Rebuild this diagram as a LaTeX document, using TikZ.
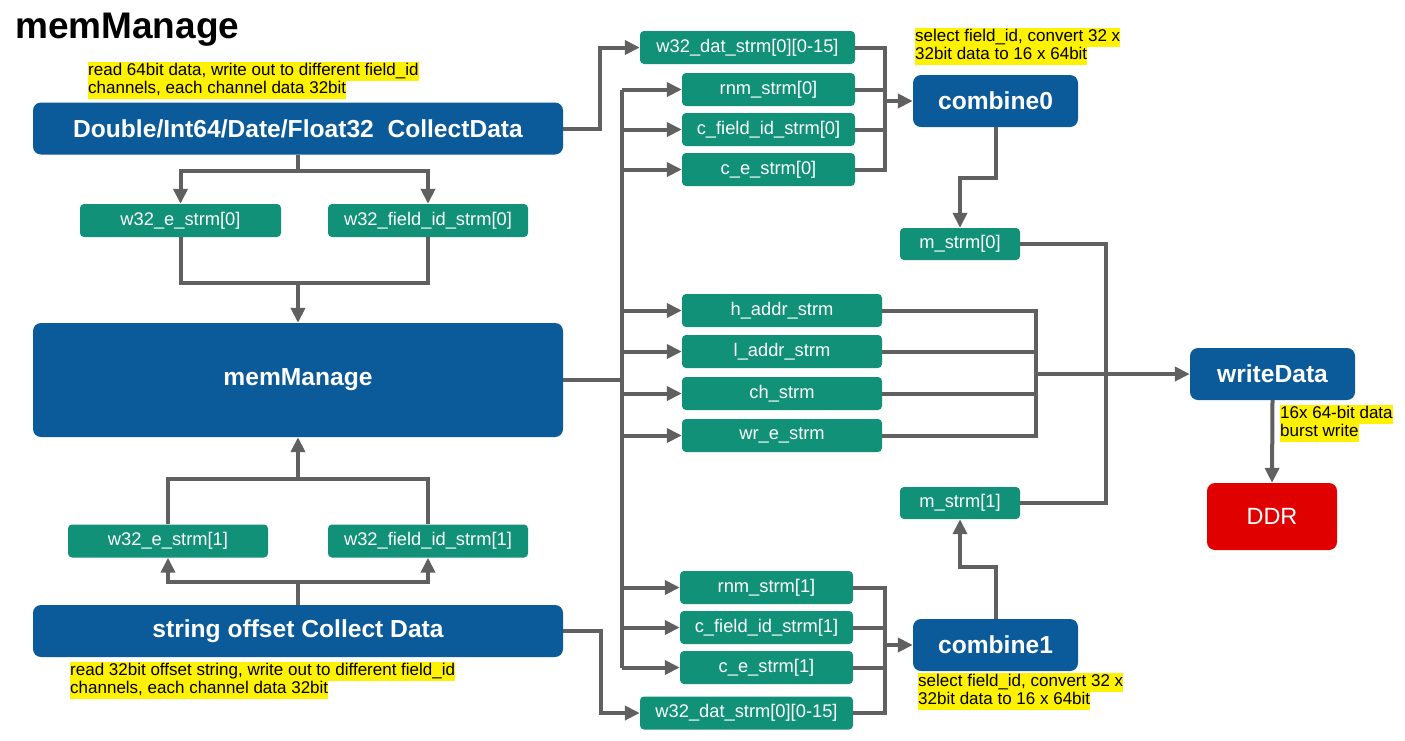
\documentclass[tikz,border=0pt]{standalone}
\usepackage{fontspec}
\setmainfont{Liberation Sans}
\usetikzlibrary{arrows.meta}
\definecolor{myblue}{RGB}{11,90,154}
\definecolor{mygreen}{RGB}{17,145,120}
\definecolor{mygray}{RGB}{96,96,96}
\definecolor{myred}{RGB}{224,0,0}
\newcommand{\hlt}[1]{{\setlength{\fboxsep}{0pt}\colorbox{yellow}{\strut #1}}}
\tikzset{
  blk/.style={fill=myblue, rounded corners=8pt, text=white, font=\fontsize{24.6}{28}\selectfont\bfseries, minimum height=52pt, inner sep=0pt},
  grn/.style={fill=mygreen, rounded corners=4pt, text=white, font=\fontsize{18.3}{20}\selectfont, minimum height=33pt, inner sep=0pt},
  conn/.style={draw=mygray, line width=4pt},
  arr/.style={conn, -{Triangle[length=15pt,width=14pt]}},
  note/.style={anchor=north west, inner sep=0pt, align=left, font=\fontsize{17}{18.5}\selectfont}
}
\begin{document}
\begin{tikzpicture}[x=1pt,y=-1pt]
\useasboundingbox[fill=white] (0,0) rectangle (1405,740);
% title
\node[anchor=base west, inner sep=0pt, font=\fontsize{37}{40}\selectfont\bfseries] (title) at (15,38) {memManage};
% blue blocks
\node[blk, minimum width=530pt] (cd) at (298,128.5) {Double/Int64/Date/Float32\ \ CollectData};
\node[blk, minimum width=530pt, minimum height=114pt] (mm) at (298,380) {memManage};
\node[blk, minimum width=530pt] (so) at (298,631) {string offset Collect Data};
\node[blk, minimum width=165pt] (comb0) at (995.5,101) {combine0};
\node[blk, minimum width=165pt] (comb1) at (995.5,645) {combine1};
\node[blk, minimum width=165pt] (wd) at (1272.5,374) {writeData};
\node[blk, fill=myred, minimum width=130pt, minimum height=67pt, font=\fontsize{23.5}{26}\selectfont] (ddr) at (1272,516.5) {DDR};
% green boxes left
\node[grn, minimum width=201pt] (e0) at (180.5,220.5) {w32\_e\_strm[0]};
\node[grn, minimum width=200pt] (fid0) at (428,220.5) {w32\_field\_id\_strm[0]};
\node[grn, minimum width=200pt] (e1) at (168,541) {w32\_e\_strm[1]};
\node[grn, minimum width=200pt] (fid1) at (428,541) {w32\_field\_id\_strm[1]};
% green boxes middle
\node[grn, minimum width=215pt] (dat0) at (747.5,47.5) {w32\_dat\_strm[0][0-15]};
\node[grn, minimum width=173pt] (rnm0) at (768.5,89.5) {rnm\_strm[0]};
\node[grn, minimum width=173pt] (cfid0) at (768.5,129.5) {c\_field\_id\_strm[0]};
\node[grn, minimum width=173pt] (ce0) at (768.5,169.5) {c\_e\_strm[0]};
\node[grn, minimum width=200pt] (ha) at (782,310.5) {h\_addr\_strm};
\node[grn, minimum width=200pt] (la) at (782,351.5) {l\_addr\_strm};
\node[grn, minimum width=200pt] (ch) at (782,393.5) {ch\_strm};
\node[grn, minimum width=200pt] (wr) at (782,435.5) {wr\_e\_strm};
\node[grn, minimum width=173pt] (rnm1) at (766.5,587.5) {rnm\_strm[1]};
\node[grn, minimum width=173pt] (cfid1) at (766.5,627.5) {c\_field\_id\_strm[1]};
\node[grn, minimum width=173pt] (ce1) at (766.5,667.5) {c\_e\_strm[1]};
\node[grn, minimum width=213pt] (dat1) at (746.5,713) {w32\_dat\_strm[0][0-15]};
\node[grn, minimum width=120pt, minimum height=32pt] (m0) at (960,244) {m\_strm[0]};
\node[grn, minimum width=120pt, minimum height=32pt] (m1) at (960,503) {m\_strm[1]};
% notes
\node[note] (n1) at (88,62) {\hlt{read 64bit data, write out to different field\_id}\\\hlt{channels, each channel data 32bit}};
\node[note] (n2) at (70,662) {\hlt{read 32bit offset string, write out to different field\_id}\\\hlt{channels, each channel data 32bit}};
\node[note] (n3) at (915,28) {\hlt{select field\_id, convert 32 x}\\\hlt{32bit data to 16 x 64bit}};
\node[note] (n4) at (918,673) {\hlt{select field\_id, convert 32 x}\\\hlt{32bit data to 16 x 64bit}};
\node[note] (n5) at (1280,405) {\hlt{16x 64-bit data}\\\hlt{burst write}};
% helper coordinates
\coordinate (tx) at (622,0);
\coordinate (b0) at (885,0);
\coordinate (b1) at (885,0);
\coordinate (ax) at (1036,0);
\coordinate (vx) at (1106,0);
% left tree top
\draw[conn] (cd.south) -- ++(0,16) coordinate (j1);
\draw[arr] (j1) -| (e0.north);
\draw[arr] (j1) -| (fid0.north);
\draw[conn] (e0.south) -- ++(0,46) coordinate (j2a) -| (fid0.south);
\draw[arr] (j2a -| mm.north) -- (mm.north);
% left tree bottom
\draw[conn] (e1.north) -- ++(0,-45) coordinate (j3a) -| (fid1.north);
\draw[arr] (j3a -| mm.south) -- (mm.south);
\draw[conn] (so.north) -- ++(0,-23) coordinate (j4);
\draw[arr] (j4) -| (e1.south);
\draw[arr] (j4) -| (fid1.south);
% to w32_dat
\draw[arr] (cd.east) -- ++(37,0) |- (dat0.west);
\draw[arr] (so.east) -- ++(38,0) |- (dat1.west);
% trunk
\draw[conn] (mm.east) -- (mm.east -| tx);
\draw[conn] (rnm0.west -| tx) -- (ce1.west -| tx);
\foreach \n in {rnm0,cfid0,ce0,ha,la,ch,wr,rnm1,cfid1,ce1}
  \draw[arr] (\n.west -| tx) -- (\n.west);
% combine0 inputs
\draw[conn] (dat0.east) -| (ce0.east -| b0) -- (ce0.east);
\draw[conn] (rnm0.east) -- (rnm0.east -| b0);
\draw[conn] (cfid0.east) -- (cfid0.east -| b0);
\draw[arr] (comb0.west -| b0) -- (comb0.west);
% combine1 inputs
\draw[conn] (rnm1.east) -| (dat1.east -| b1) -- (dat1.east);
\draw[conn] (cfid1.east) -- (cfid1.east -| b1);
\draw[conn] (ce1.east) -- (ce1.east -| b1);
\draw[arr] (comb1.west -| b1) -- (comb1.west);
% combine to m_strm
\draw[arr] (comb0.south) -- ++(0,51) -| (m0.north);
\draw[arr] (comb1.north) -- ++(0,-52) -| (m1.south);
% m_strm bracket
\draw[conn] (m0.east) -| (m1.east -| vx) -- (m1.east);
% address bracket
\draw[conn] (ha.east) -| (wr.east -| ax) -- (wr.east);
\draw[conn] (la.east) -- (la.east -| ax);
\draw[conn] (ch.east) -- (ch.east -| ax);
\draw[arr] (wd.west -| ax) -- (wd.west);
% writeData to DDR
\draw[arr] (wd.south) -- (ddr.north);
\end{tikzpicture}
\end{document}
